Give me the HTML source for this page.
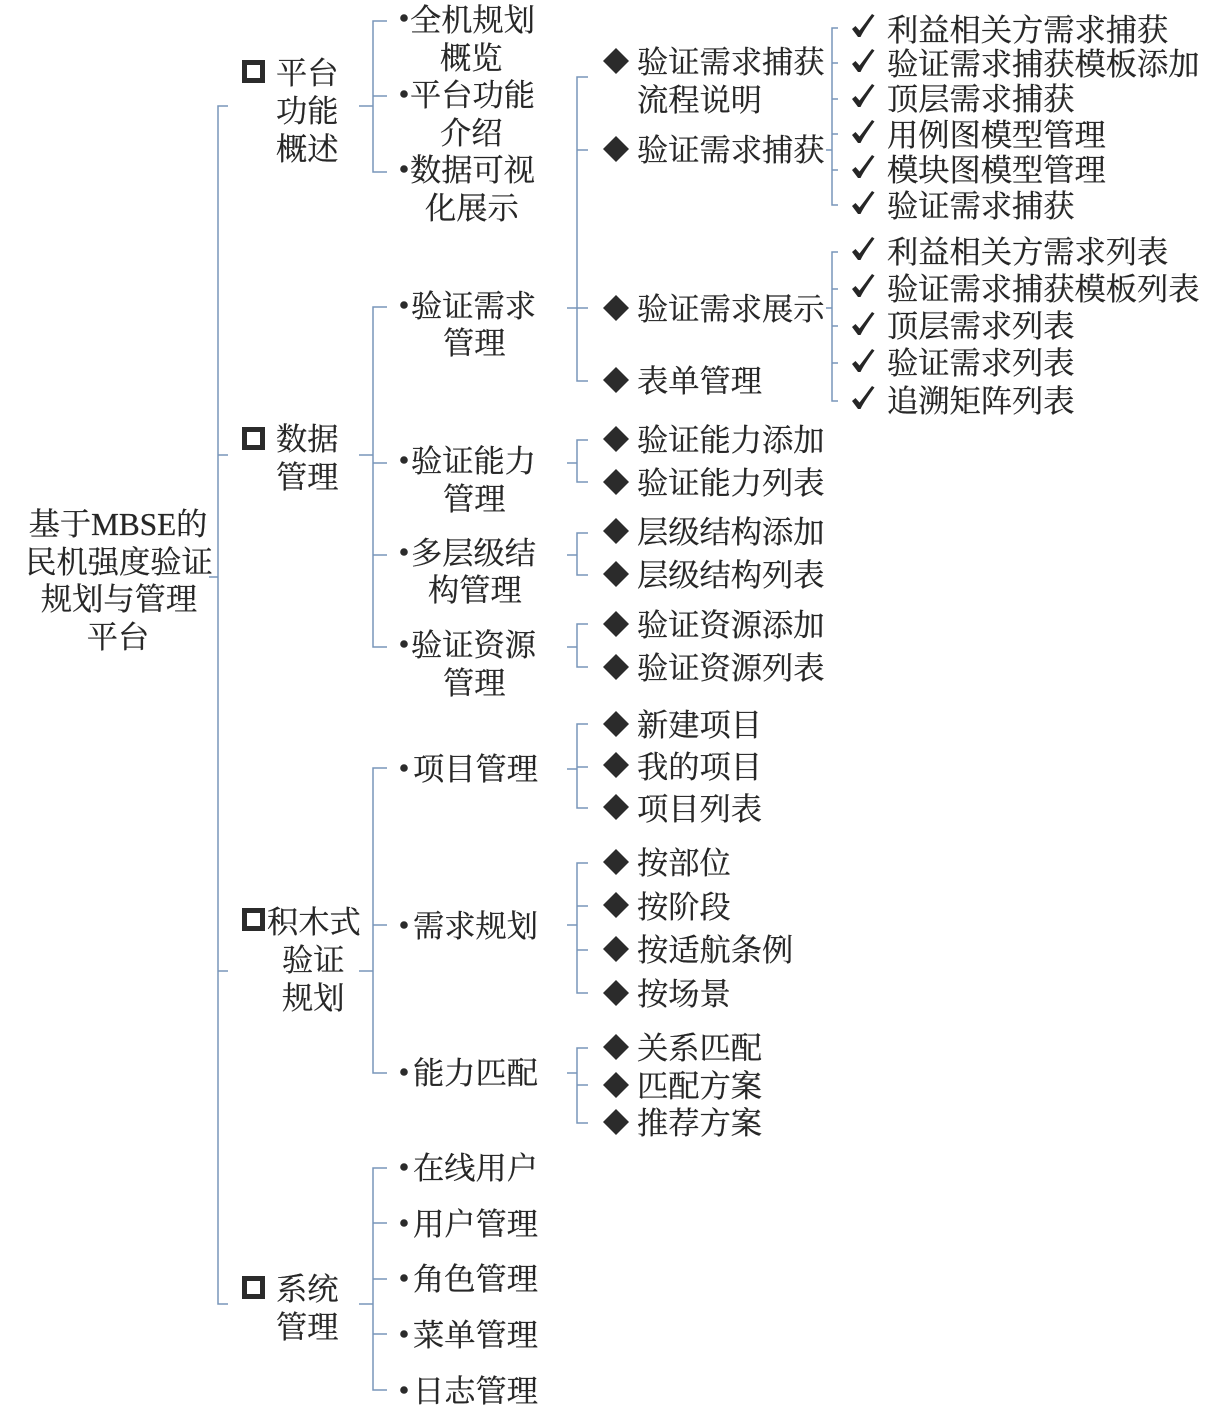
<!DOCTYPE html>
<html lang="zh">
<head>
<meta charset="utf-8">
<title>基于MBSE的民机强度验证规划与管理平台</title>
<style>
html,body{margin:0;padding:0;background:#fff;}
svg{display:block;}
text{font-family:"Liberation Serif","Noto Serif CJK SC",serif;font-size:31.25px;fill:#262626;stroke:#262626;stroke-width:.25;transform:translate(-1px,1px);}
.m{text-anchor:middle;}
.d{fill:#2b2b2b;}
.b{fill:#2b2b2b;}
.l{stroke:#7896ba;stroke-width:1.5;fill:none;}
</style>
</head>
<body>
<svg width="1217" height="1406" viewBox="0 0 1217 1406" xmlns="http://www.w3.org/2000/svg">
<defs>
<path id="k" d="M852 14l3.500-3 4 4.500C864 10 868 4 872 -1l2.500 1.500C869 8 864 15 860.500 22h-2.500z" fill="#262626"/>
</defs>
<!-- connectors -->
<path class="l" d="M209 577H218M228 106H218V1304H228M218 455H228M218 971H228"/>
<path class="l" d="M359 106H373M387 21H373V172H387M373 96H387"/>
<path class="l" d="M359 455H373M387 307H373V647H387M373 463H387M373 555H387"/>
<path class="l" d="M359 971H373M387 768H373V1073H387M373 925H387"/>
<path class="l" d="M359 1304H373M387 1168H373V1390H387M373 1223H387M373 1279H387M373 1334H387"/>
<path class="l" d="M567 308H577M588 77H577V381H588M577 150H588M577 308H588"/>
<path class="l" d="M567 463H577M588 440H577V482H588"/>
<path class="l" d="M567 555H577M588 533H577V575H588"/>
<path class="l" d="M567 647H577M588 624H577V667H588"/>
<path class="l" d="M567 769H577M588 724H577V808H588M577 767H588"/>
<path class="l" d="M567 925H577M588 863H577V993H588M577 906H588M577 950H588"/>
<path class="l" d="M567 1073H577M588 1048H577V1123H588M577 1085H588"/>
<path class="l" d="M826 150H832M838 28H832V205H838M832 63H838M832 99H838M832 134H838M832 170H838"/>
<path class="l" d="M826 308H832M838 252H832V401H838M832 289H838M832 326H838M832 363H838"/>

<!-- root -->
<text class="m" x="119" y="534">基于MBSE的</text>
<text class="m" x="120" y="572">民机强度验证</text>
<text class="m" x="120" y="609">规划与管理</text>
<text class="m" x="119" y="647">平台</text>

<!-- level 1 -->
<rect class="b" x="242" y="60" width="23" height="23"/><rect fill="#fff" x="247" y="65" width="13" height="13"/>
<text x="277" y="83">平台</text><text x="277" y="121">功能</text><text x="277" y="159">概述</text>
<rect class="b" x="242" y="427" width="23" height="23"/><rect fill="#fff" x="247" y="432" width="13" height="13"/>
<text x="277" y="449">数据</text><text x="277" y="487">管理</text>
<rect class="b" x="242" y="908" width="23" height="23"/><rect fill="#fff" x="247" y="913" width="13" height="13"/>
<text x="268" y="932">积木式</text><text x="283" y="970">验证</text><text x="283" y="1008">规划</text>
<rect class="b" x="242" y="1276" width="23" height="23"/><rect fill="#fff" x="247" y="1281" width="13" height="13"/>
<text x="277" y="1299">系统</text><text x="277" y="1337">管理</text>

<!-- level 2 bullets -->
<g class="d">
<circle cx="404" cy="18" r="3.8"/><circle cx="404" cy="94" r="3.8"/><circle cx="404" cy="169" r="3.8"/>
<circle cx="404" cy="305" r="3.8"/><circle cx="404" cy="460" r="3.8"/><circle cx="404" cy="552" r="3.8"/><circle cx="404" cy="644" r="3.8"/>
<circle cx="404" cy="768" r="3.8"/><circle cx="404" cy="925" r="3.8"/><circle cx="404" cy="1072" r="3.8"/>
<circle cx="404" cy="1167" r="3.8"/><circle cx="404" cy="1223" r="3.8"/><circle cx="404" cy="1278" r="3.8"/><circle cx="404" cy="1334" r="3.8"/><circle cx="404" cy="1390" r="3.8"/>
</g>
<text x="411" y="30">全机规划</text><text x="441" y="68">概览</text>
<text x="411" y="105">平台功能</text><text x="441" y="143">介绍</text>
<text x="411" y="180">数据可视</text><text x="426" y="218">化展示</text>
<text x="412" y="316">验证需求</text><text x="444" y="353">管理</text>
<text x="412" y="471">验证能力</text><text x="444" y="509">管理</text>
<text x="412" y="563">多层级结</text><text x="429" y="600">构管理</text>
<text x="412" y="655">验证资源</text><text x="444" y="693">管理</text>
<text x="414" y="779">项目管理</text>
<text x="414" y="936">需求规划</text>
<text x="414" y="1083">能力匹配</text>
<text x="414" y="1178">在线用户</text>
<text x="414" y="1234">用户管理</text>
<text x="414" y="1289">角色管理</text>
<text x="414" y="1345">菜单管理</text>
<text x="414" y="1401">日志管理</text>

<!-- level 3 diamonds -->
<g class="d">
<path d="M616 48l13 13-13 13-13-13z"/><path d="M616 136l13 13-13 13-13-13z"/><path d="M616 295l13 13-13 13-13-13z"/><path d="M616 367l13 13-13 13-13-13z"/>
<path d="M616 426l13 13-13 13-13-13z"/><path d="M616 469l13 13-13 13-13-13z"/>
<path d="M616 518l13 13-13 13-13-13z"/><path d="M616 561l13 13-13 13-13-13z"/>
<path d="M616 611l13 13-13 13-13-13z"/><path d="M616 654l13 13-13 13-13-13z"/>
<path d="M616 711l13 13-13 13-13-13z"/><path d="M616 752l13 13-13 13-13-13z"/><path d="M616 794l13 13-13 13-13-13z"/>
<path d="M616 849l13 13-13 13-13-13z"/><path d="M616 892l13 13-13 13-13-13z"/><path d="M616 936l13 13-13 13-13-13z"/><path d="M616 980l13 13-13 13-13-13z"/>
<path d="M616 1034l13 13-13 13-13-13z"/><path d="M616 1072l13 13-13 13-13-13z"/><path d="M616 1109l13 13-13 13-13-13z"/>
</g>
<text x="638" y="72">验证需求捕获</text><text x="638" y="110">流程说明</text>
<text x="638" y="160">验证需求捕获</text>
<text x="638" y="319">验证需求展示</text>
<text x="638" y="391">表单管理</text>
<text x="638" y="450">验证能力添加</text><text x="638" y="493">验证能力列表</text>
<text x="638" y="542">层级结构添加</text><text x="638" y="585">层级结构列表</text>
<text x="638" y="635">验证资源添加</text><text x="638" y="678">验证资源列表</text>
<text x="638" y="735">新建项目</text><text x="638" y="777">我的项目</text><text x="638" y="819">项目列表</text>
<text x="638" y="873">按部位</text><text x="638" y="917">按阶段</text><text x="638" y="960">按适航条例</text><text x="638" y="1004">按场景</text>
<text x="638" y="1058">关系匹配</text><text x="638" y="1096">匹配方案</text><text x="638" y="1133">推荐方案</text>

<!-- level 4 checks -->
<use href="#k" y="15"/><use href="#k" y="50"/><use href="#k" y="85"/><use href="#k" y="121"/><use href="#k" y="156"/><use href="#k" y="192"/>
<use href="#k" y="238"/><use href="#k" y="275"/><use href="#k" y="313"/><use href="#k" y="350"/><use href="#k" y="387"/>
<text x="888" y="40">利益相关方需求捕获</text>
<text x="888" y="74">验证需求捕获模板添加</text>
<text x="888" y="109">顶层需求捕获</text>
<text x="888" y="145">用例图模型管理</text>
<text x="888" y="180">模块图模型管理</text>
<text x="888" y="216">验证需求捕获</text>
<text x="888" y="262">利益相关方需求列表</text>
<text x="888" y="299">验证需求捕获模板列表</text>
<text x="888" y="336">顶层需求列表</text>
<text x="888" y="373">验证需求列表</text>
<text x="888" y="411">追溯矩阵列表</text>
</svg>
</body>
</html>
